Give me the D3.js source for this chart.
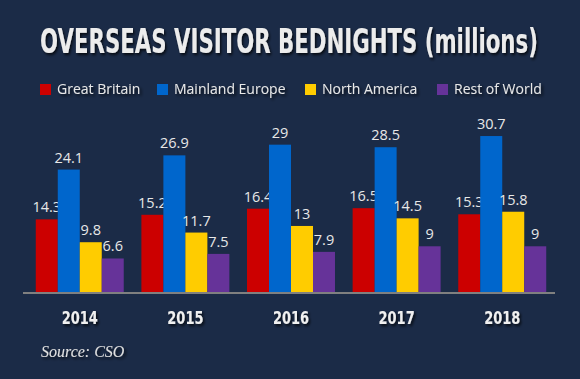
<!DOCTYPE html>
<html>
<head>
<meta charset="utf-8">
<script src="https://cdn.jsdelivr.net/npm/d3@7"></script>
<style>
  html, body { margin: 0; padding: 0; background: #1b2b47; }
  svg { display: block; }
</style>
</head>
<body>
<div id="chart"></div>
<script>
// data
const years = ['2014', '2015', '2016', '2017', '2018'];
const seriesNames = ['Great Britain', 'Mainland Europe', 'North America', 'Rest of World'];
const greatBritain = [14.3, 15.2, 16.4, 16.5, 15.3];
const mainlandEurope = [24.1, 26.9, 29, 28.5, 30.7];
const northAmerica = [9.8, 11.7, 13, 14.5, 15.8];
const restOfWorld = [6.6, 7.5, 7.9, 9, 9];
const colors = ['#cc0000', '#0066cc', '#ffcc00', '#663399'];

const seriesValues = [greatBritain, mainlandEurope, northAmerica, restOfWorld];

const width = 580;
const height = 379;
const baseline = 292;
const condensedFont = '"DejaVu Sans Condensed", "Liberation Sans Narrow", sans-serif';

const svg = d3.select('#chart').append('svg')
  .attr('width', width)
  .attr('height', height);

svg.append('rect')
  .attr('width', width)
  .attr('height', height)
  .attr('fill', '#1b2b47');

// drop shadow used on the title, legend, years and source
const defs = svg.append('defs');
const shadow = defs.append('filter')
  .attr('id', 'shadow')
  .attr('x', '-10%').attr('y', '-30%')
  .attr('width', '130%').attr('height', '180%');
shadow.append('feDropShadow')
  .attr('dx', 2).attr('dy', 2)
  .attr('stdDeviation', 1.5)
  .attr('flood-color', '#000')
  .attr('flood-opacity', 0.75);

// title, squeezed horizontally to the width of the condensed original
const title = svg.append('text')
  .attr('text-anchor', 'middle')
  .attr('font-family', condensedFont)
  .attr('font-weight', 'bold')
  .attr('font-size', 33)
  .attr('fill', '#ececec')
  .attr('filter', 'url(#shadow)')
  .text('OVERSEAS VISITOR BEDNIGHTS (millions)');
const titleWidth = title.node().getComputedTextLength();
title.attr('transform', `translate(289, 53) scale(${498 / titleWidth}, 1)`);

// legend
const legendX = [40, 157, 305, 437];
const legend = svg.append('g').selectAll('g.legend-item')
  .data(seriesNames)
  .enter()
  .append('g')
  .classed('legend-item', true)
  .attr('transform', (d, i) => `translate(${legendX[i]}, 84)`);

legend.append('rect')
  .attr('width', 11)
  .attr('height', 11)
  .attr('fill', (d, i) => colors[i]);

legend.append('text')
  .attr('x', 17)
  .attr('y', 10)
  .attr('font-family', '"Open Sans", sans-serif')
  .attr('font-size', 14)
  .attr('fill', '#e8e8e8')
  .attr('filter', 'url(#shadow)')
  .text((d) => d);

// scales
const x = d3.scaleBand()
  .domain(years)
  .range([27, 555])
  .paddingInner(0.167)
  .paddingOuter(0.083);

const xInner = d3.scaleBand()
  .domain(seriesNames)
  .range([0, x.bandwidth()]);

const y = d3.scaleLinear()
  .domain([0, 32])
  .range([baseline, baseline - 32 * 5.08]);

// bars
const groups = svg.append('g').selectAll('g.year')
  .data(years)
  .enter()
  .append('g')
  .classed('year', true)
  .attr('transform', (d) => `translate(${x(d)}, 0)`);

const bars = groups.selectAll('g.bar')
  .data((d, yi) => seriesNames.map((name, si) => ({name: name, si: si, value: seriesValues[si][yi]})))
  .enter()
  .append('g')
  .classed('bar', true);

bars.append('rect')
  .attr('x', (d) => xInner(d.name))
  .attr('y', (d) => y(d.value))
  .attr('width', xInner.bandwidth())
  .attr('height', (d) => baseline - y(d.value))
  .attr('fill', (d) => colors[d.si]);

bars.append('text')
  .attr('x', (d) => xInner(d.name) + xInner.bandwidth() / 2)
  .attr('y', (d) => y(d.value) - 7)
  .attr('text-anchor', 'middle')
  .attr('font-family', '"Open Sans", sans-serif')
  .attr('font-size', 14.5)
  .attr('fill', '#e8e8e8')
  .text((d) => d.value);

// axis line
svg.append('line')
  .attr('x1', 23)
  .attr('x2', 555)
  .attr('y1', baseline + 1)
  .attr('y2', baseline + 1)
  .attr('stroke', '#808080')
  .attr('stroke-width', 2);

// year labels
const axisX = svg.append('g')
  .attr('transform', `translate(0, ${baseline})`)
  .call(d3.axisBottom(x).tickSize(0).tickPadding(0));

axisX.select('.domain').remove();
axisX.selectAll('text')
  .attr('y', 0)
  .attr('dy', 0)
  .attr('transform', 'translate(0, 32) scale(0.85, 1)')
  .attr('font-family', condensedFont)
  .attr('font-weight', 'bold')
  .attr('font-size', 17)
  .attr('fill', '#f0f0f0')
  .attr('filter', 'url(#shadow)');

// source
svg.append('text')
  .attr('x', 41)
  .attr('y', 357)
  .attr('font-family', '"Liberation Serif", serif')
  .attr('font-style', 'italic')
  .attr('font-size', 16)
  .attr('fill', '#e0e0e0')
  .attr('filter', 'url(#shadow)')
  .text('Source: CSO');
</script>
</body>
</html>
